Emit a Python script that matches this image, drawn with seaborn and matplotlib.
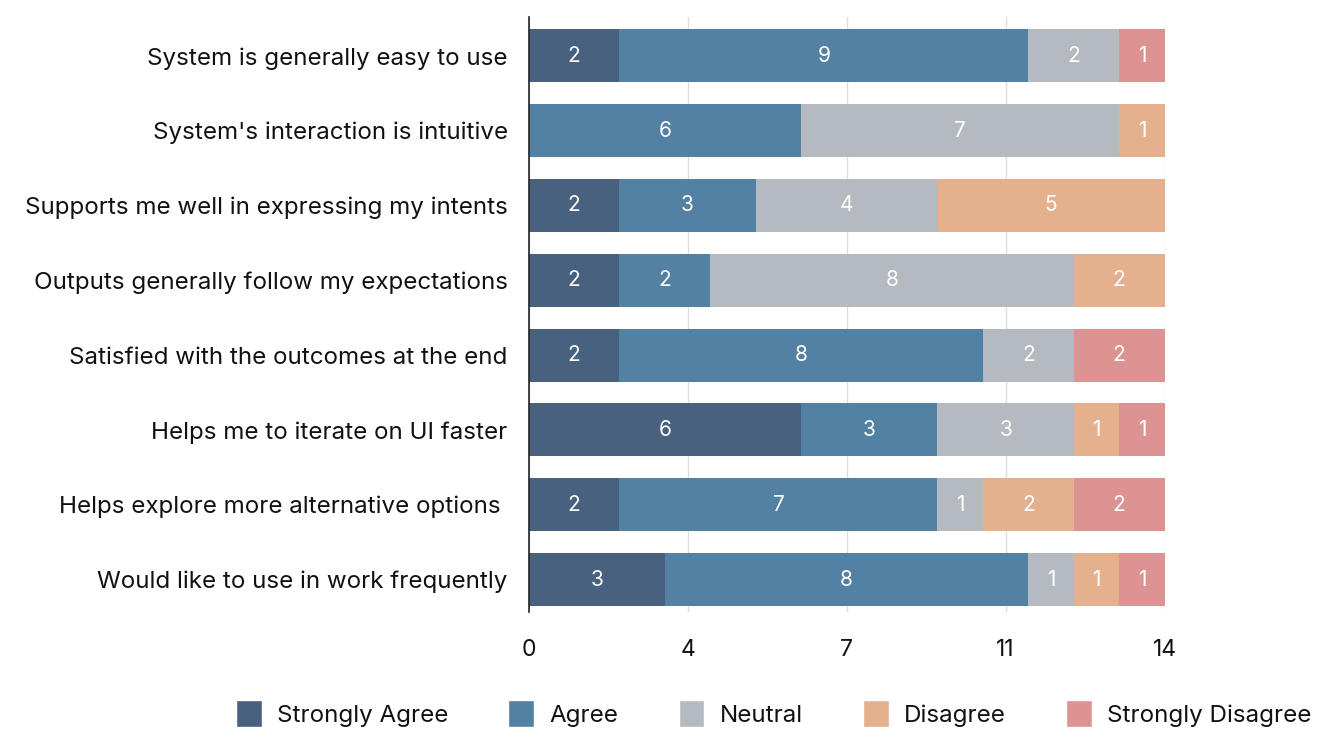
import numpy as np
import pandas as pd
import matplotlib
matplotlib.use("Agg")
import matplotlib.pyplot as plt
import seaborn as sns
from matplotlib.patches import Patch

# ── Data ──
questions = [
    "System is generally easy to use",
    "System's interaction is intuitive",
    "Supports me well in expressing my intents",
    "Outputs generally follow my expectations",
    "Satisfied with the outcomes at the end",
    "Helps me to iterate on UI faster",
    "Helps explore more alternative options ",
    "Would like to use in work frequently",
]
levels = ["Strongly Agree", "Agree", "Neutral", "Disagree", "Strongly Disagree"]
strongly_agree    = [2, 0, 2, 2, 2, 6, 2, 3]
agree             = [9, 6, 3, 2, 8, 3, 7, 8]
neutral           = [2, 7, 4, 8, 2, 3, 1, 1]
disagree          = [0, 1, 5, 2, 0, 1, 2, 1]
strongly_disagree = [1, 0, 0, 0, 2, 1, 2, 1]
tick_values = [0, 3.5, 7, 10.5, 14]
tick_labels = ["0", "4", "7", "11", "14"]
colors = ["#48617f", "#5381a3", "#b5b9c0", "#e4b08e", "#dc9391"]

counts = np.array([strongly_agree, agree, neutral, disagree, strongly_disagree])
cum = counts.cumsum(axis=0)

sns.set_style("white")
plt.rcParams["font.family"] = ["Inter", "DejaVu Sans"]
plt.rcParams["text.color"] = "#111111"
plt.rcParams["xtick.color"] = "#111111"
plt.rcParams["ytick.color"] = "#111111"

fig, ax = plt.subplots(figsize=(13.28, 7.37), dpi=100)
fig.subplots_adjust(left=0.398, right=0.877, top=0.977, bottom=0.17)

# ── Stacked bars: draw cumulative totals from the last level to the first ──
for i in range(len(levels) - 1, -1, -1):
    df = pd.DataFrame({"q": questions, "v": cum[i]})
    sns.barplot(data=df, x="v", y="q", orient="h", color=colors[i],
                width=0.71, saturation=1, ax=ax, zorder=2, linewidth=0)

# ── Segment labels ──
for i in range(len(levels)):
    for j in range(len(questions)):
        if counts[i, j] > 0:
            ax.text(cum[i, j] - counts[i, j] / 2, j, str(counts[i, j]),
                    ha="center", va="center", color="white", fontsize=15,
                    zorder=3)

ax.set_xlim(0, 14)
ax.set_ylim(7.43, -0.52)
ax.set_xticks(tick_values)
ax.set_xticklabels(tick_labels, fontsize=16.5)
ax.tick_params(axis="y", labelsize=17.4, length=0, pad=15)
ax.tick_params(axis="x", length=0, pad=20)
ax.set_xlabel("")
ax.set_ylabel("")
ax.grid(axis="x", color="#dddddd", linewidth=1, zorder=0)
ax.set_axisbelow(True)
for s in ["top", "right", "bottom"]:
    ax.spines[s].set_visible(False)
ax.spines["left"].set_color("#222222")
ax.spines["left"].set_linewidth(1.2)
ax.spines["left"].set_zorder(4)

handles = [Patch(facecolor=c, label=l) for c, l in zip(colors, levels)]
fig.legend(handles=handles, loc="center", bbox_to_anchor=(0.5825, 0.032),
           ncol=5, frameon=False, fontsize=17.4, handlelength=1.07,
           handleheight=1.3, handletextpad=0.62, columnspacing=2.5)

plt.savefig("out.png", dpi=100)
